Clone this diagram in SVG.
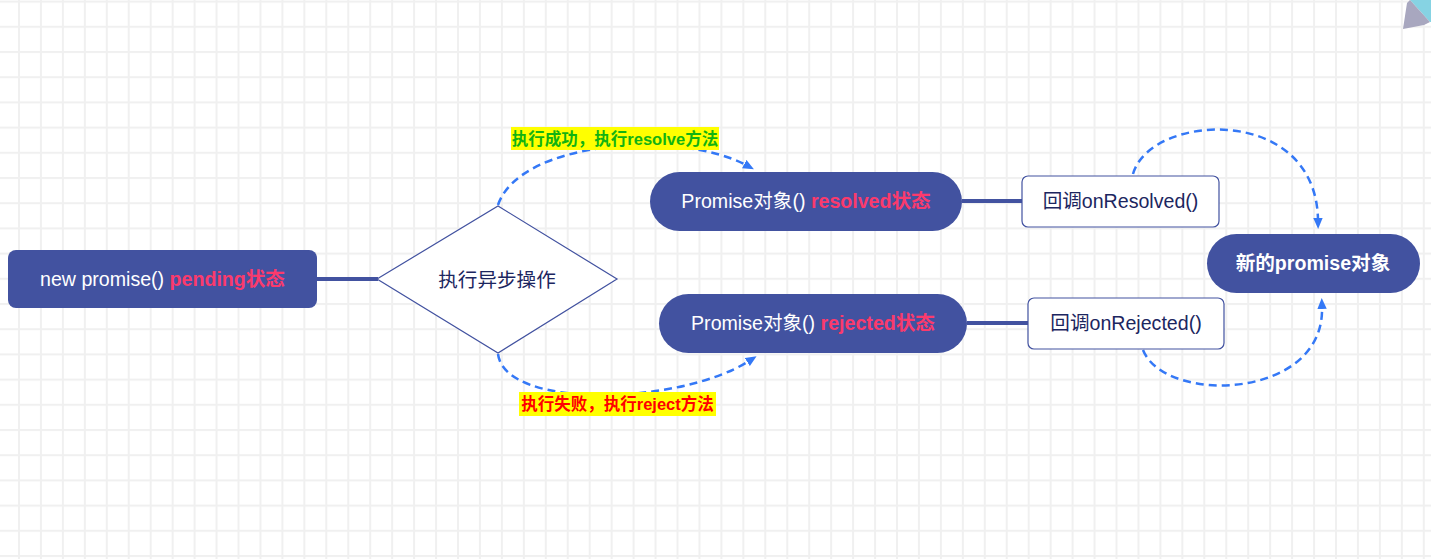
<svg xmlns="http://www.w3.org/2000/svg" width="1431" height="559" viewBox="0 0 1431 559">
<defs>
<pattern id="grid" patternUnits="userSpaceOnUse" x="18" y="0.6" width="21.95" height="25.2">
<rect x="0" y="0" width="2" height="25.2" fill="#f0f0f0"/>
<rect x="0" y="0" width="21.95" height="2" fill="#f0f0f0"/>
</pattern>
<marker id="arr" viewBox="0 0 11 10" refX="2" refY="5" markerWidth="11" markerHeight="10" markerUnits="userSpaceOnUse" orient="auto">
<path d="M0,0.3 L11,5 L0,9.7 Z" fill="#3478f6"/>
</marker>
<style>
.node{fill:#4252a0;}
.box{fill:#ffffff;stroke:#4252a0;stroke-width:1.2;}
.t{font-family:"Liberation Sans","Noto Sans CJK SC",sans-serif;font-size:19.6px;text-anchor:middle;}
.w{fill:#ffffff;}
.pk{fill:#fb3a6c;font-weight:bold;}
.dk{fill:#1c2660;}
.lbl{font-family:"Liberation Sans","Noto Sans CJK SC",sans-serif;font-size:16.5px;font-weight:bold;text-anchor:middle;}
.solid{stroke:#4252a0;stroke-width:4;fill:none;}
.dash{stroke:#3478f6;stroke-width:2.5;fill:none;stroke-dasharray:8 5;marker-end:url(#arr);}
</style>
</defs>
<rect width="1431" height="559" fill="#ffffff"/>
<rect width="1431" height="559" fill="url(#grid)"/>
<polygon points="1410,0 1431,0 1431,22 1430,22" fill="#86d3e3"/>
<polygon points="1403,29 1407,3 1410,0 1430,22 1424,25" fill="#a8a7bf"/>

<g id="connectors">
<line class="solid" x1="317" y1="279" x2="378" y2="279"/>
<line class="solid" x1="962" y1="201" x2="1022" y2="201"/>
<line class="solid" x1="967" y1="323" x2="1028" y2="323"/>
<path class="dash" d="M498,205 C520,140 680,130 746,165"/>
<path class="dash" d="M498,354 C505,410 680,405 749,361"/>
<path class="dash" d="M1133,174 C1150,113 1316,103 1318,220"/>
<path class="dash" d="M1143,350 C1165,405 1325,400 1322,307"/>
</g>

<g id="label-resolve">
<rect x="511" y="127" width="208" height="23" fill="#ffff00"/>
<text class="lbl" x="615" y="144.5" fill="#12b312">执行成功，执行resolve方法</text>
</g>
<g id="label-reject">
<rect x="519" y="392" width="197" height="24" fill="#ffff00"/>
<text class="lbl" x="617.5" y="410" fill="#ff0000">执行失败，执行reject方法</text>
</g>

<g id="node-pending">
<rect class="node" x="8" y="250" width="309" height="58" rx="8"/>
<text class="t" x="162.5" y="286"><tspan class="w">new promise() </tspan><tspan class="pk">pending状态</tspan></text>
</g>
<g id="node-async">
<polygon points="377,279 498,206 617,279 498,353" fill="#ffffff" stroke="#4252a0" stroke-width="1.2"/>
<text class="t dk" x="497" y="287">执行异步操作</text>
</g>
<g id="node-resolved">
<rect class="node" x="650" y="172" width="312" height="59" rx="29.5"/>
<text class="t" x="806" y="208"><tspan class="w">Promise对象() </tspan><tspan class="pk">resolved状态</tspan></text>
</g>
<g id="node-rejected">
<rect class="node" x="659" y="294" width="308" height="59" rx="29.5"/>
<text class="t" x="813" y="330"><tspan class="w">Promise对象() </tspan><tspan class="pk">rejected状态</tspan></text>
</g>
<g id="node-onresolved">
<rect class="box" x="1022" y="176" width="197" height="51" rx="6"/>
<text class="t dk" x="1120.5" y="208">回调onResolved()</text>
</g>
<g id="node-onrejected">
<rect class="box" x="1028" y="298" width="196" height="51" rx="6"/>
<text class="t dk" x="1126" y="330">回调onRejected()</text>
</g>
<g id="node-new">
<rect class="node" x="1207" y="234" width="213" height="59" rx="29.5"/>
<text class="t w" x="1313" y="270" font-weight="bold">新的promise对象</text>
</g>
</svg>
